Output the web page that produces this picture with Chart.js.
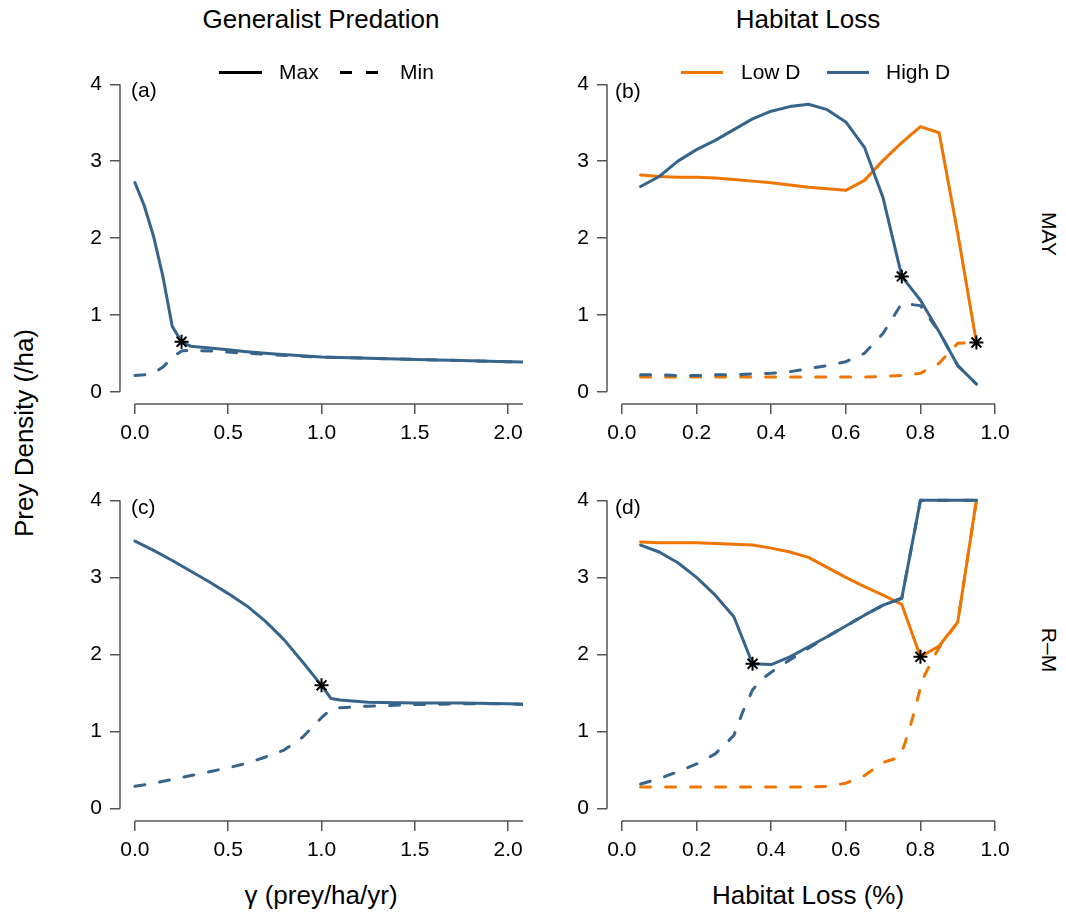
<!DOCTYPE html>
<html lang="en">
<head>
<meta charset="UTF-8">
<title>Prey Density</title>
<style>
    body {
        margin: 0;
        background: #fff;
        font-family: 'Liberation Sans', Arial, Helvetica, sans-serif;
    }

    #page {
        position: relative;
        width: 1066px;
        height: 915px;
        overflow: hidden;
    }

    canvas {
        position: absolute;
    }

    .lbl {
        position: absolute;
        white-space: nowrap;
        color: #000;
        line-height: 1.15;
    }

    .big { font-size: 26px; }
    .small { font-size: 21px; }
    .mid { transform: translate(-50%, -50%); }
    .left { transform: translateY(-50%); }
    .up { transform: translate(-50%, -50%) rotate(-90deg); }
    .down { transform: translate(-50%, -50%) rotate(90deg); }

    .key {
        position: absolute;
        height: 0;
        border-top-width: 3px;
        border-top-style: solid;
    }
</style>
</head>
<body>
<div id="page">
    <canvas id="panelA" width="493" height="403" style="left:50px; top:51px;"></canvas>
    <canvas id="panelB" width="493" height="403" style="left:537px; top:51px;"></canvas>
    <canvas id="panelC" width="493" height="404" style="left:50px; top:467px;"></canvas>
    <canvas id="panelD" width="493" height="404" style="left:537px; top:467px;"></canvas>

    <div class="lbl big mid" style="left:321px; top:19.5px;">Generalist Predation</div>
    <div class="lbl big mid" style="left:808px; top:19.5px;">Habitat Loss</div>
    <div class="lbl big up" style="left:25px; top:433px;">Prey Density (/ha)</div>
    <div class="lbl big mid" style="left:321px; top:896px;">γ (prey/ha/yr)</div>
    <div class="lbl big mid" style="left:808px; top:896px;">Habitat Loss (%)</div>
    <div class="lbl small down" style="left:1049px; top:234px;">MAY</div>
    <div class="lbl small down" style="left:1049px; top:650px;">R–M</div>

    <div class="lbl small left" style="left:131px; top:90px;">(a)</div>
    <div class="lbl small left" style="left:615px; top:91px;">(b)</div>
    <div class="lbl small left" style="left:131px; top:507px;">(c)</div>
    <div class="lbl small left" style="left:615px; top:507px;">(d)</div>

    <!-- line type key -->
    <div class="key" style="left:219px; top:70.5px; width:43px; border-top-color:#000;"></div>
    <div class="lbl small left" style="left:279px; top:72px;">Max</div>
    <div class="key" style="left:340px; top:70.5px; width:12px; border-top-color:#000;"></div>
    <div class="key" style="left:366px; top:70.5px; width:12px; border-top-color:#000;"></div>
    <div class="lbl small left" style="left:400px; top:72px;">Min</div>

    <!-- dispersal key -->
    <div class="key" style="left:681px; top:70.5px; width:42px; border-top-color:#EE7600;"></div>
    <div class="lbl small left" style="left:741px; top:72px;">Low D</div>
    <div class="key" style="left:827px; top:70.5px; width:42px; border-top-color:#36648B;"></div>
    <div class="lbl small left" style="left:886px; top:72px;">High D</div>
</div>

<script src="https://cdn.jsdelivr.net/npm/chart.js"></script>
<script>
    // axis ticks
    const gammaTicks = [0, 0.5, 1, 1.5, 2];
    const lossTicks = [0, 0.2, 0.4, 0.6, 0.8, 1];
    const densityTicks = [0, 1, 2, 3, 4];

    // (a) MAY, generalist predation
    const gammaMay = [0, 0.05, 0.1, 0.15, 0.2, 0.25, 0.3, 0.4, 0.5, 0.6, 0.75, 1.0, 1.25, 1.5, 1.75, 2.0, 2.1];
    const mayGammaMax = [2.72, 2.42, 2.02, 1.50, 0.85, 0.65, 0.59, 0.57, 0.545, 0.52, 0.49, 0.45, 0.435, 0.42, 0.405, 0.39, 0.385];
    const mayGammaMin = [0.21, 0.22, 0.24, 0.32, 0.45, 0.53, 0.54, 0.53, 0.515, 0.50, 0.48, 0.45, 0.435, 0.42, 0.405, 0.39, 0.385];
    const mayGammaStar = [[0.25, 0.65]];

    // (c) R-M, generalist predation
    const gammaRm = [0, 0.1, 0.2, 0.3, 0.4, 0.5, 0.6, 0.7, 0.8, 0.9, 1.0, 1.05, 1.1, 1.25, 1.5, 1.75, 2.0, 2.1];
    const rmGammaMax = [3.47, 3.35, 3.22, 3.08, 2.94, 2.79, 2.63, 2.43, 2.19, 1.90, 1.60, 1.43, 1.41, 1.38, 1.37, 1.37, 1.36, 1.355];
    const rmGammaMin = [0.29, 0.33, 0.38, 0.43, 0.48, 0.53, 0.59, 0.67, 0.76, 0.93, 1.18, 1.29, 1.31, 1.33, 1.35, 1.36, 1.36, 1.355];
    const rmGammaStar = [[1.0, 1.60]];

    // (b) MAY, habitat loss
    const loss = [0.05, 0.1, 0.15, 0.2, 0.25, 0.3, 0.35, 0.4, 0.45, 0.5, 0.55, 0.6, 0.65, 0.7, 0.75, 0.8, 0.85, 0.9, 0.95];
    const mayLowMax = [2.82, 2.80, 2.79, 2.79, 2.78, 2.76, 2.74, 2.72, 2.69, 2.66, 2.64, 2.62, 2.75, 3.01, 3.24, 3.45, 3.37, 2.06, 0.64];
    const mayLowMin = [0.19, 0.19, 0.19, 0.19, 0.19, 0.19, 0.19, 0.19, 0.19, 0.19, 0.19, 0.19, 0.19, 0.20, 0.21, 0.24, 0.37, 0.63, 0.64];
    const mayHighMax = [2.67, 2.80, 3.00, 3.15, 3.27, 3.41, 3.55, 3.65, 3.71, 3.74, 3.67, 3.51, 3.18, 2.52, 1.50, 1.19, 0.78, 0.34, 0.10];
    const mayHighMin = [0.22, 0.22, 0.21, 0.21, 0.22, 0.22, 0.23, 0.24, 0.26, 0.30, 0.34, 0.39, 0.50, 0.76, 1.15, 1.12, 0.78, 0.34, 0.10];
    const mayLossStar = [[0.75, 1.50], [0.95, 0.64]];

    // (d) R-M, habitat loss
    const rmLowMax = [3.46, 3.45, 3.45, 3.45, 3.44, 3.43, 3.42, 3.38, 3.33, 3.26, 3.13, 3.00, 2.88, 2.77, 2.65, 1.97, 2.11, 2.42, 4.0];
    const rmHighMax = [3.42, 3.33, 3.19, 3.00, 2.77, 2.49, 1.88, 1.87, 1.97, 2.10, 2.23, 2.37, 2.51, 2.64, 2.73, 4.0, 4.0, 4.0, 4.0];
    const lossRmLowMin = [0.05, 0.1, 0.15, 0.2, 0.25, 0.3, 0.35, 0.4, 0.45, 0.5, 0.55, 0.6, 0.65, 0.7, 0.74, 0.755, 0.77, 0.787, 0.805, 0.835, 0.85, 0.9, 0.95];
    const rmLowMin = [0.28, 0.28, 0.28, 0.28, 0.28, 0.28, 0.28, 0.28, 0.28, 0.28, 0.29, 0.33, 0.43, 0.60, 0.66, 0.80, 1.02, 1.32, 1.67, 1.96, 2.09, 2.42, 4.0];
    const lossRmHighMin = [0.05, 0.1, 0.15, 0.2, 0.25, 0.3, 0.325, 0.35, 0.375, 0.4, 0.45, 0.5, 0.55, 0.6, 0.65, 0.7, 0.75, 0.8, 0.85, 0.9, 0.95];
    const rmHighMin = [0.32, 0.39, 0.48, 0.58, 0.71, 0.95, 1.27, 1.54, 1.68, 1.77, 1.93, 2.08, 2.23, 2.37, 2.51, 2.64, 2.73, 4.0, 4.0, 4.0, 4.0];
    const rmLossStar = [[0.35, 1.88], [0.8, 1.97]];

    const BLUE = '#36648B';
    const ORANGE = '#EE7600';
    const AXIS = '#555555';

    Chart.defaults.font.family = "'Liberation Sans', Arial, Helvetica, sans-serif";
    Chart.defaults.color = '#000';

    const pts = (xs, ys) => xs.map((x, i) => ({ x: x, y: ys[i] }));

    function curve(xs, ys, color, dashed) {
        return {
            data: pts(xs, ys),
            showLine: true,
            borderColor: color,
            borderWidth: 3,
            borderDash: dashed ? [10, 15] : [],
            borderCapStyle: 'round',
            borderJoinStyle: 'round',
            pointRadius: 0,
            tension: 0,
        };
    }

    function stars(list) {
        return {
            data: list.map(p => ({ x: p[0], y: p[1] })),
            showLine: false,
            pointStyle: 'star',
            pointRadius: 7,
            pointBorderColor: '#000',
            pointBorderWidth: 2,
            clip: false,
        };
    }

    // R-style axis lines: only from the first tick to the last (or the plot edge)
    const axisLines = {
        id: 'axisLines',
        afterDraw(chart, args, opts) {
            const { ctx, chartArea } = chart;
            const x = chart.scales.x, y = chart.scales.y;
            ctx.save();
            ctx.strokeStyle = AXIS;
            ctx.lineWidth = 1.5;
            ctx.beginPath();
            ctx.moveTo(chartArea.left, y.getPixelForValue(y.ticks[0].value));
            ctx.lineTo(chartArea.left, y.getPixelForValue(y.ticks[y.ticks.length - 1].value));
            ctx.moveTo(x.getPixelForValue(x.ticks[0].value), chartArea.bottom);
            ctx.lineTo(Math.min(x.getPixelForValue(opts.xEnd), chartArea.right), chartArea.bottom);
            ctx.stroke();
            ctx.restore();
        }
    };

    function panel(id, xMin, xMax, xTicks, xEnd, datasets) {
        return new Chart(document.getElementById(id), {
            type: 'scatter',
            data: { datasets: datasets },
            options: {
                responsive: false,
                animation: false,
                events: [],
                // top padding covers the y tick label overhang so the plot box stays put
                layout: { padding: { top: 21, right: 20, left: 0, bottom: 0 } },
                plugins: {
                    legend: { display: false },
                    tooltip: { enabled: false },
                    axisLines: { xEnd: xEnd },
                },
                scales: {
                    x: {
                        type: 'linear',
                        min: xMin,
                        max: xMax,
                        afterBuildTicks: s => { s.ticks = xTicks.map(v => ({ value: v })); },
                        afterFit: s => { s.height = 50; },
                        border: { display: false },
                        grid: { drawOnChartArea: false, tickLength: 10, color: AXIS, tickColor: AXIS, lineWidth: 1.5, tickWidth: 1.5 },
                        ticks: { padding: 7, font: { size: 21 }, color: '#000', maxRotation: 0, autoSkip: false, callback: v => v.toFixed(1) },
                    },
                    y: {
                        type: 'linear',
                        min: -0.16,
                        max: 4.16,
                        afterBuildTicks: s => { s.ticks = densityTicks.map(v => ({ value: v })); },
                        afterFit: s => { s.width = 70; },
                        border: { display: false },
                        grid: { drawOnChartArea: false, tickLength: 10, color: AXIS, tickColor: AXIS, lineWidth: 1.5, tickWidth: 1.5 },
                        ticks: { padding: 8, font: { size: 21 }, color: '#000', autoSkip: false, callback: v => String(v) },
                    },
                },
            },
            plugins: [axisLines],
        });
    }

    panel('panelA', -0.08, 2.08, gammaTicks, 2.08, [
        stars(mayGammaStar),
        curve(gammaMay, mayGammaMax, BLUE, false),
        curve(gammaMay, mayGammaMin, BLUE, true),
    ]);

    panel('panelB', -0.04, 1.04, lossTicks, 1.0, [
        stars(mayLossStar),
        curve(loss, mayHighMax, BLUE, false),
        curve(loss, mayHighMin, BLUE, true),
        curve(loss, mayLowMax, ORANGE, false),
        curve(loss, mayLowMin, ORANGE, true),
    ]);

    panel('panelC', -0.08, 2.08, gammaTicks, 2.08, [
        stars(rmGammaStar),
        curve(gammaRm, rmGammaMax, BLUE, false),
        curve(gammaRm, rmGammaMin, BLUE, true),
    ]);

    panel('panelD', -0.04, 1.04, lossTicks, 1.0, [
        stars(rmLossStar),
        curve(loss, rmHighMax, BLUE, false),
        curve(lossRmHighMin, rmHighMin, BLUE, true),
        curve(loss, rmLowMax, ORANGE, false),
        curve(lossRmLowMin, rmLowMin, ORANGE, true),
    ]);
</script>
</body>
</html>
